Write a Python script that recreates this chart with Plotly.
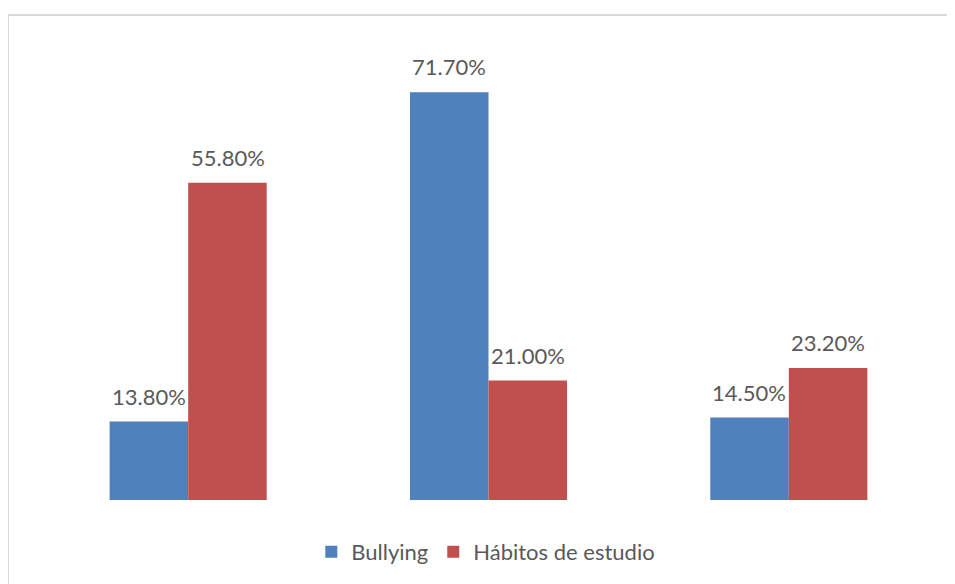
import plotly.graph_objects as go

categories = ["Grupo 1", "Grupo 2", "Grupo 3"]
bullying = [13.8, 71.7, 14.5]
habitos = [55.8, 21.0, 23.2]
series_names = ["Bullying", "Hábitos de estudio"]
colors = ["#4F81BD", "#C0504D"]

def fmt(x):
    return f"{x:.2f}%"

fig = go.Figure()
for name, vals, col in zip(series_names, [bullying, habitos], colors):
    fig.add_trace(go.Bar(
        x=categories, y=vals, name=name,
        marker=dict(color=col, line=dict(width=0)),
        hoverinfo="skip",
    ))

annotations = []
for idx, (vals, shift) in enumerate([(bullying, -39.5), (habitos, 39.5)]):
    for c, v in zip(categories, vals):
        annotations.append(dict(
            x=c, y=v, xref="x", yref="y", text=fmt(v), showarrow=False,
            xanchor="center", yanchor="bottom", xshift=shift, yshift=10,
            font=dict(family="Lato", size=22, color="#595959"),
        ))

fig.update_layout(
    width=947, height=576,
    margin=dict(l=30, r=16, t=37, b=83),
    paper_bgcolor="white", plot_bgcolor="white",
    barmode="group", bargap=0.477, bargroupgap=0,
    font=dict(family="Lato", color="#595959"),
    xaxis=dict(visible=False),
    yaxis=dict(visible=False, range=[0, 80]),
    legend=dict(
        orientation="h", x=0.497, xanchor="center", y=-0.112, yanchor="middle",
        font=dict(family="Lato", size=22, color="#595959"),
        itemwidth=30, itemclick=False,
    ),
    showlegend=True,
    annotations=annotations,
    shapes=[dict(
        type="rect", xref="paper", yref="paper",
        x0=-0.0333, x1=1.1, y0=-0.5, y1=1.0658,
        line=dict(color="#D9D9D9", width=2), fillcolor="rgba(0,0,0,0)",
        layer="below",
    )],
)

fig.write_html("out.html")
